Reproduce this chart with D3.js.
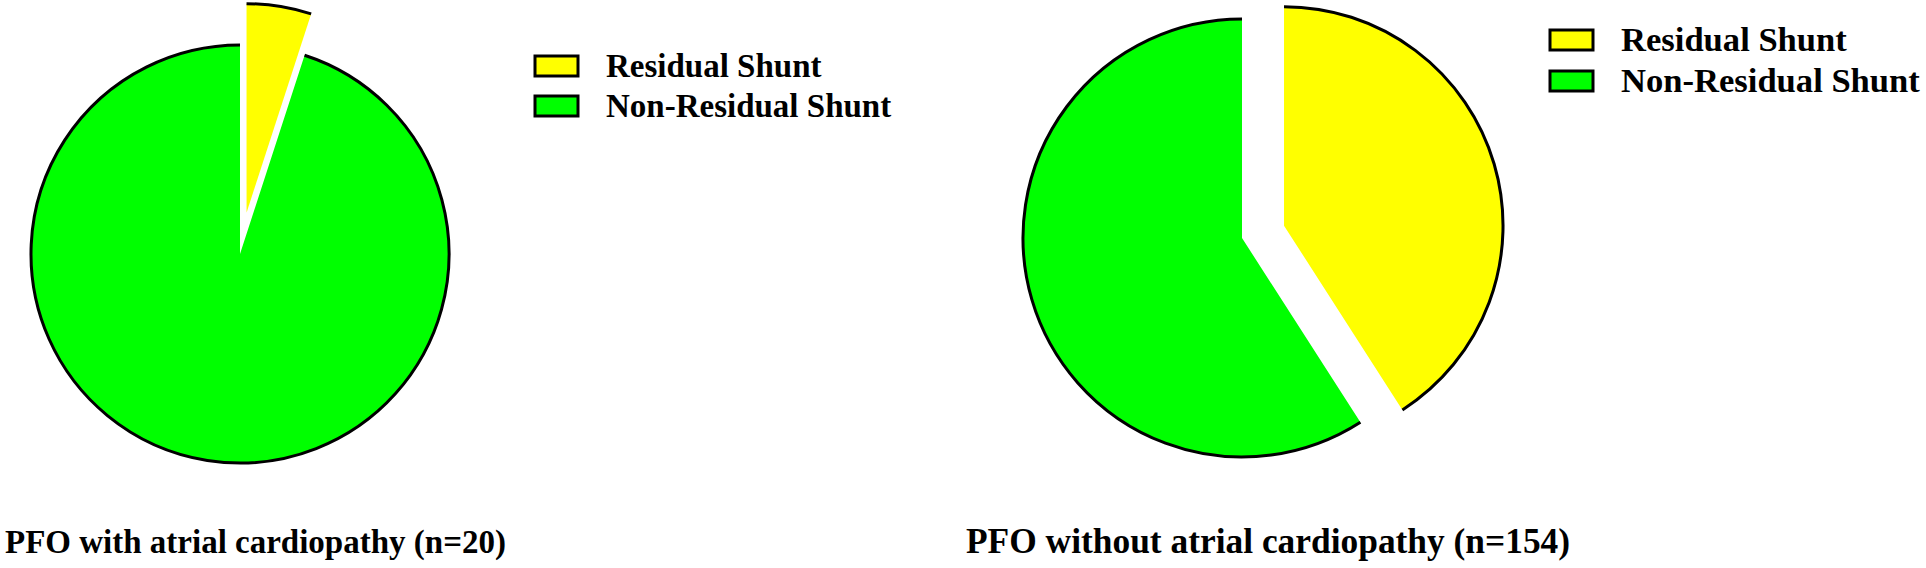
<!DOCTYPE html>
<html>
<head>
<meta charset="utf-8">
<script src="https://cdn.jsdelivr.net/npm/d3@7"></script>
<style>
html,body{margin:0;padding:0;background:#fff;}
svg{display:block;}
text{font-family:"Liberation Serif","Times New Roman",serif;font-weight:bold;fill:#000;}
</style>
</head>
<body>
<svg id="chart" width="1926" height="568"></svg>
<script>
// Data
const categories = ["Residual Shunt", "Non-Residual Shunt"];
const colors = ["#ffff00", "#00ff00"];
const withCardiopathy = [1, 19];      // n=20
const withoutCardiopathy = [63, 91];  // n=154
const titles = ["PFO with atrial cardiopathy (n=20)", "PFO without atrial cardiopathy (n=154)"];

const svg = d3.select("#chart");

const panels = [
  {values: withCardiopathy, cx: 240, cy: 254, r: 209, title: titles[0], tx: 5, ty: 553,
   lx: 535, ly: 56, fs: 33, tfs: 33, gap: 40},
  {values: withoutCardiopathy, cx: 1242, cy: 238, r: 219, title: titles[1], tx: 966, ty: 553,
   lx: 1550, ly: 30, fs: 34.6, tfs: 35.4, gap: 41}
];

const pie = d3.pie().sort(null).value(d => d);
const explodeFrac = 0.2;

panels.forEach(p => {
  const g = svg.append("g").attr("transform", `translate(${p.cx},${p.cy})`);
  const arcs = pie(p.values);
  const fillArc = d3.arc().innerRadius(0).outerRadius(p.r);
  const rimArc = d3.arc().innerRadius(p.r).outerRadius(p.r);
  arcs.forEach((a, i) => {
    const off = i === 0 ? explodeFrac * p.r : 0;
    const mid = (a.startAngle + a.endAngle) / 2;
    const dx = off * Math.sin(mid), dy = -off * Math.cos(mid);
    const sg = g.append("g").attr("transform", `translate(${dx},${dy})`);
    sg.append("path").attr("d", fillArc(a)).attr("fill", colors[i]).attr("stroke", "none");
    sg.append("path").attr("d", rimArc(a)).attr("fill", "none")
      .attr("stroke", "#000").attr("stroke-width", 3);
  });

  // legend
  const lg = svg.append("g").attr("transform", `translate(${p.lx},${p.ly})`);
  categories.forEach((c, i) => {
    lg.append("rect").attr("x", 0).attr("y", i * p.gap).attr("width", 43).attr("height", 20)
      .attr("fill", colors[i]).attr("stroke", "#000").attr("stroke-width", 3);
    lg.append("text").attr("x", 71).attr("y", i * p.gap + 21).attr("font-size", p.fs).text(c);
  });

  svg.append("text").attr("x", p.tx).attr("y", p.ty).attr("font-size", p.tfs).text(p.title);
});
</script>
</body>
</html>
